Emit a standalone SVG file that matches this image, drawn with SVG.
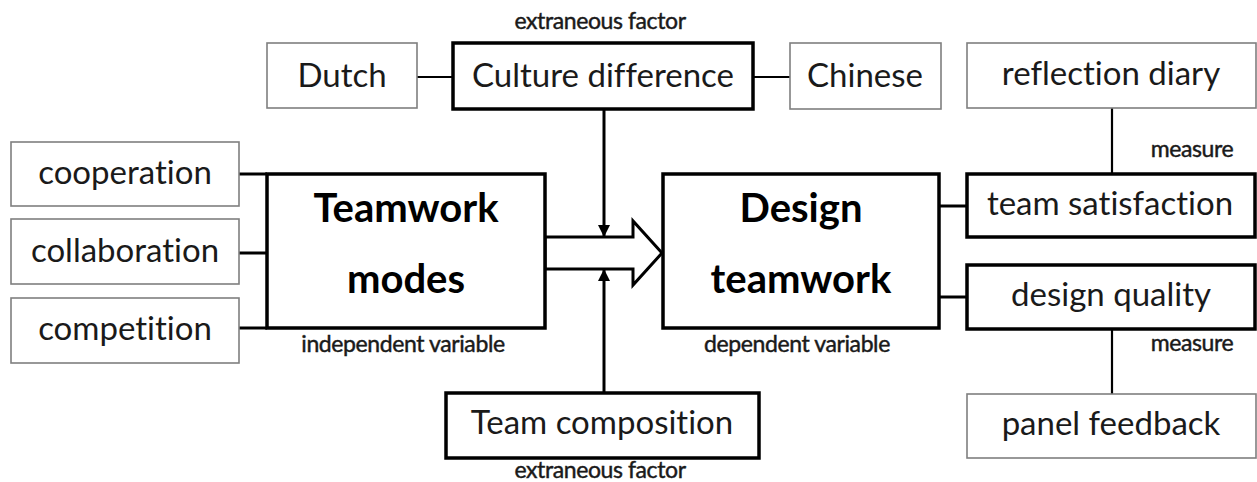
<svg xmlns="http://www.w3.org/2000/svg" width="1257" height="482" viewBox="0 0 1257 482">
  <style>
    text { font-family: Lato, "Open Sans", "Liberation Sans", sans-serif; fill: #1a1a1a; text-anchor: middle; font-variant-ligatures: none; }
    .lbl { font-size: 33px; }
    .big { font-size: 40px; font-weight: bold; fill: #000; }
    .note { font-size: 23px; letter-spacing: -0.4px; stroke: #1a1a1a; stroke-width: 0.45px; }
    .thin { fill: #fff; stroke: #7f7f7f; stroke-width: 1.6; }
    .thick { fill: #fff; stroke: #000; stroke-width: 3.5; }
    .wire { stroke: #000; stroke-width: 3; fill: none; }
    .wire2 { stroke: #000; stroke-width: 2.2; fill: none; }
  </style>
  <defs>
    <marker id="head" markerUnits="userSpaceOnUse" markerWidth="14" markerHeight="14" refX="12" refY="7" orient="auto" viewBox="0 0 14 14">
      <path d="M0,1 L12,7 L0,13 Z" fill="#000"/>
    </marker>
  </defs>

  <!-- connectors -->
  <g id="connectors">
    <line class="wire2" x1="417" y1="77" x2="453" y2="77"/>
    <line class="wire2" x1="753" y1="77" x2="790" y2="77"/>
    <line class="wire" x1="239" y1="174" x2="267" y2="174"/>
    <line class="wire" x1="239" y1="253" x2="267" y2="253"/>
    <line class="wire" x1="239" y1="328" x2="267" y2="328"/>
    <line class="wire" x1="939" y1="206" x2="967" y2="206"/>
    <line class="wire" x1="939" y1="297" x2="967" y2="297"/>
    <line class="wire2" x1="1112" y1="108" x2="1112" y2="174"/>
    <line class="wire2" x1="1112" y1="329" x2="1112" y2="394"/>
    <polygon points="545,237 633,237 633,221 662,253 633,285 633,269 545,269" fill="#fff" stroke="#000" stroke-width="3" stroke-linejoin="miter"/>
    <line class="wire" x1="604" y1="110" x2="604" y2="237" marker-end="url(#head)"/>
    <line class="wire" x1="604" y1="393" x2="604" y2="269" marker-end="url(#head)"/>
  </g>

  <!-- culture -->
  <g id="dutch">
    <rect class="thin" x="267" y="43" width="150" height="65"/>
    <text class="lbl" x="342" y="87">Dutch</text>
  </g>
  <g id="culture">
    <rect class="thick" x="453" y="43" width="300" height="66"/>
    <text class="lbl" x="603" y="87">Culture difference</text>
    <text class="note" x="600" y="29">extraneous factor</text>
  </g>
  <g id="chinese">
    <rect class="thin" x="790" y="43" width="151" height="66"/>
    <text class="lbl" x="865" y="87">Chinese</text>
  </g>

  <!-- teamwork modes -->
  <g id="cooperation">
    <rect class="thin" x="11" y="142" width="228" height="64"/>
    <text class="lbl" x="125" y="184">cooperation</text>
  </g>
  <g id="collaboration">
    <rect class="thin" x="11" y="219" width="228" height="65"/>
    <text class="lbl" x="125" y="262">collaboration</text>
  </g>
  <g id="competition">
    <rect class="thin" x="11" y="298" width="228" height="65"/>
    <text class="lbl" x="125" y="340">competition</text>
  </g>
  <g id="teamwork-modes">
    <rect class="thick" x="267" y="174" width="278" height="154"/>
    <text class="big" x="406" y="222">Teamwork</text>
    <text class="big" x="406" y="293">modes</text>
    <text class="note" x="403" y="352">independent variable</text>
  </g>

  <!-- design teamwork -->
  <g id="design-teamwork">
    <rect class="thick" x="663" y="174" width="276" height="154"/>
    <text class="big" x="801" y="222">Design</text>
    <text class="big" x="801" y="293">teamwork</text>
    <text class="note" x="797" y="352">dependent variable</text>
  </g>

  <!-- team composition -->
  <g id="team-composition">
    <rect class="thick" x="446" y="393" width="313" height="65"/>
    <text class="lbl" x="602" y="434">Team composition</text>
    <text class="note" x="600" y="478">extraneous factor</text>
  </g>

  <!-- measures -->
  <g id="reflection-diary">
    <rect class="thin" x="967" y="43" width="289" height="65"/>
    <text class="lbl" x="1111" y="85">reflection diary</text>
  </g>
  <g id="team-satisfaction">
    <rect class="thick" x="967" y="174" width="288" height="63"/>
    <text class="lbl" x="1110" y="215">team satisfaction</text>
    <text class="note" x="1192" y="157">measure</text>
  </g>
  <g id="design-quality">
    <rect class="thick" x="967" y="265" width="288" height="64"/>
    <text class="lbl" x="1111" y="306">design quality</text>
    <text class="note" x="1192" y="351">measure</text>
  </g>
  <g id="panel-feedback">
    <rect class="thin" x="967" y="394" width="289" height="64"/>
    <text class="lbl" x="1111" y="435">panel feedback</text>
  </g>
</svg>
